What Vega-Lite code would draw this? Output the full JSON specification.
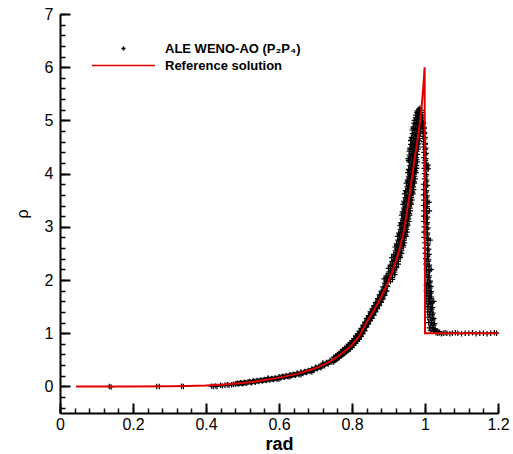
{
"$schema": "https://vega.github.io/schema/vega-lite/v6.json",
"width": 438, "height": 399,
"autosize": {"type": "none"},
"padding": {"left": 60, "top": 14, "right": 15, "bottom": 41},
"background": "white",
"config": {"view": {"stroke": null}, "font": "Liberation Sans", "axis": {"labelFont": "Liberation Sans", "titleFont": "Liberation Sans"}},
"resolve": {"axis": {"x": "independent", "y": "independent"}},
"layer": [
{
"data": {"values": [
{"x":0.135,"y":0},{"x":0.14,"y":-0.01},{"x":0.265,"y":0},{"x":0.272,"y":0},{"x":0.333,"y":0.005},{"x":0.338,"y":0},{"x":0.415,"y":0.005},{"x":0.42,"y":0},{"x":0.425,"y":0.01},{"x":0.43,"y":0},{"x":0.44,"y":0.02},{"x":0.445,"y":0.01},{"x":0.452,"y":0.02},{"x":0.458,"y":0.03},{"x":0.463,"y":0.02},{"x":0.47,"y":0.03},{"x":0.475,"y":0.04},
{"x":0.48,"y":0.04},{"x":0.486,"y":0.06},{"x":0.49,"y":0.05},{"x":0.495,"y":0.07},{"x":0.5,"y":0.05},{"x":0.505,"y":0.08},{"x":0.51,"y":0.06},{"x":0.515,"y":0.08},{"x":0.52,"y":0.09},{"x":0.525,"y":0.07},{"x":0.53,"y":0.1},{"x":0.535,"y":0.08},{"x":0.54,"y":0.11},{"x":0.545,"y":0.09},{"x":0.55,"y":0.12},{"x":0.555,"y":0.1},{"x":0.56,"y":0.13},{"x":0.565,"y":0.11},{"x":0.57,"y":0.14},{"x":0.575,"y":0.12},{"x":0.58,"y":0.15},{"x":0.585,"y":0.13},{"x":0.59,"y":0.16},{"x":0.595,"y":0.14},{"x":0.6,"y":0.18},{"x":0.605,"y":0.16},{"x":0.61,"y":0.19},{"x":0.615,"y":0.17},{"x":0.62,"y":0.2},{"x":0.625,"y":0.18},{"x":0.63,"y":0.22},{"x":0.635,"y":0.2},{"x":0.64,"y":0.23},{"x":0.645,"y":0.21},{"x":0.65,"y":0.25},{"x":0.655,"y":0.22},{"x":0.66,"y":0.27},{"x":0.665,"y":0.24},{"x":0.67,"y":0.28},{"x":0.675,"y":0.26},{"x":0.68,"y":0.3},{"x":0.685,"y":0.28},{"x":0.69,"y":0.33},{"x":0.695,"y":0.3},{"x":0.7,"y":0.36},{"x":0.705,"y":0.33},{"x":0.71,"y":0.38},{"x":0.715,"y":0.35},{"x":0.72,"y":0.42},{"x":0.725,"y":0.39},{"x":0.73,"y":0.45},{"x":0.735,"y":0.42},{"x":0.74,"y":0.49},{"x":0.745,"y":0.46},
{"x":0.57,"y":0.16},{"x":0.6,"y":0.14},{"x":0.63,"y":0.18},{"x":0.66,"y":0.22},{"x":0.69,"y":0.27},{"x":0.72,"y":0.44},
{"x":0.4825,"y":0.055},{"x":0.4875,"y":0.05},{"x":0.4925,"y":0.06},{"x":0.4975,"y":0.065},{"x":0.5025,"y":0.06},{"x":0.5075,"y":0.07},{"x":0.5125,"y":0.075},{"x":0.5175,"y":0.085},{"x":0.5225,"y":0.08},{"x":0.5275,"y":0.09},{"x":0.5325,"y":0.09},{"x":0.5375,"y":0.1},{"x":0.5425,"y":0.1},{"x":0.5475,"y":0.11},{"x":0.5525,"y":0.11},{"x":0.5575,"y":0.12},{"x":0.5625,"y":0.12},{"x":0.5675,"y":0.13},{"x":0.5725,"y":0.13},{"x":0.5775,"y":0.14},{"x":0.5825,"y":0.14},{"x":0.5875,"y":0.15},{"x":0.5925,"y":0.15},{"x":0.5975,"y":0.16},{"x":0.6025,"y":0.17},{"x":0.6075,"y":0.175},{"x":0.6125,"y":0.18},{"x":0.6175,"y":0.19},{"x":0.6225,"y":0.19},{"x":0.6275,"y":0.2},{"x":0.6325,"y":0.21},{"x":0.6375,"y":0.215},{"x":0.6425,"y":0.22},{"x":0.6475,"y":0.23},{"x":0.6525,"y":0.235},{"x":0.6575,"y":0.245},{"x":0.6625,"y":0.255},{"x":0.6675,"y":0.26},{"x":0.6725,"y":0.27},{"x":0.6775,"y":0.28},{"x":0.6825,"y":0.29},{"x":0.6875,"y":0.3},{"x":0.6925,"y":0.315},{"x":0.6975,"y":0.325},{"x":0.7025,"y":0.345},{"x":0.7075,"y":0.355},{"x":0.7125,"y":0.365},{"x":0.7175,"y":0.38},{"x":0.7225,"y":0.405},{"x":0.7275,"y":0.42},{"x":0.7325,"y":0.435},{"x":0.7375,"y":0.455},{"x":0.7425,"y":0.475},{"x":0.7475,"y":0.49},
{"x":0.75,"y":0.55},{"x":0.75,"y":0.5},{"x":0.75,"y":0.46},
{"x":0.755,"y":0.57},{"x":0.755,"y":0.53},{"x":0.755,"y":0.49},
{"x":0.76,"y":0.6},{"x":0.76,"y":0.55},{"x":0.76,"y":0.52},
{"x":0.765,"y":0.62},{"x":0.765,"y":0.58},{"x":0.765,"y":0.54},
{"x":0.77,"y":0.66},{"x":0.77,"y":0.61},{"x":0.77,"y":0.57},
{"x":0.775,"y":0.69},{"x":0.775,"y":0.63},{"x":0.775,"y":0.6},
{"x":0.78,"y":0.72},{"x":0.78,"y":0.67},{"x":0.78,"y":0.62},
{"x":0.785,"y":0.75},{"x":0.785,"y":0.69},{"x":0.785,"y":0.65},
{"x":0.79,"y":0.79},{"x":0.79,"y":0.73},{"x":0.79,"y":0.68},
{"x":0.795,"y":0.82},{"x":0.795,"y":0.76},{"x":0.795,"y":0.7},
{"x":0.8,"y":0.86},{"x":0.8,"y":0.79},{"x":0.8,"y":0.74},
{"x":0.805,"y":0.9},{"x":0.805,"y":0.83},{"x":0.805,"y":0.77},
{"x":0.81,"y":0.95},{"x":0.81,"y":0.87},{"x":0.81,"y":0.81},
{"x":0.815,"y":0.99},{"x":0.815,"y":0.91},{"x":0.815,"y":0.85},
{"x":0.82,"y":1.04},{"x":0.82,"y":0.96},{"x":0.82,"y":0.89},
{"x":0.825,"y":1.09},{"x":0.825,"y":1.0},{"x":0.825,"y":0.94},
{"x":0.83,"y":1.15},{"x":0.83,"y":1.07},{"x":0.83,"y":0.99},
{"x":0.835,"y":1.21},{"x":0.835,"y":1.12},{"x":0.835,"y":1.05},
{"x":0.84,"y":1.28},{"x":0.84,"y":1.2},{"x":0.84,"y":1.12},
{"x":0.845,"y":1.33},{"x":0.845,"y":1.25},{"x":0.845,"y":1.17},
{"x":0.85,"y":1.4},{"x":0.85,"y":1.31},{"x":0.85,"y":1.23},
{"x":0.855,"y":1.46},{"x":0.855,"y":1.37},{"x":0.855,"y":1.28},
{"x":0.86,"y":1.52},{"x":0.86,"y":1.43},{"x":0.86,"y":1.34},
{"x":0.865,"y":1.58},{"x":0.865,"y":1.49},{"x":0.865,"y":1.4},
{"x":0.87,"y":1.65},{"x":0.87,"y":1.55},{"x":0.87,"y":1.46},
{"x":0.875,"y":1.72},{"x":0.875,"y":1.62},{"x":0.875,"y":1.52},
{"x":0.88,"y":1.79},{"x":0.88,"y":1.68},{"x":0.88,"y":1.58},
{"x":0.885,"y":1.87},{"x":0.885,"y":1.75},{"x":0.885,"y":1.64},
{"x":0.89,"y":1.94},{"x":0.89,"y":1.83},{"x":0.89,"y":1.71},
{"x":0.895,"y":2.02},{"x":0.895,"y":1.9},{"x":0.895,"y":1.79},
{"x":0.7525,"y":0.54},{"x":0.7525,"y":0.485},{"x":0.7575,"y":0.565},{"x":0.7575,"y":0.515},{"x":0.7625,"y":0.59},{"x":0.7625,"y":0.54},{"x":0.7675,"y":0.625},{"x":0.7675,"y":0.565},{"x":0.7725,"y":0.65},{"x":0.7725,"y":0.59},{"x":0.7775,"y":0.68},{"x":0.7775,"y":0.615},{"x":0.7825,"y":0.71},{"x":0.7825,"y":0.645},{"x":0.7875,"y":0.745},{"x":0.7875,"y":0.675},{"x":0.7925,"y":0.78},{"x":0.7925,"y":0.705},{"x":0.7975,"y":0.815},{"x":0.7975,"y":0.735},
{"x":0.8025,"y":0.85},{"x":0.8025,"y":0.77},{"x":0.8075,"y":0.89},{"x":0.8075,"y":0.81},{"x":0.8125,"y":0.93},{"x":0.8125,"y":0.85},{"x":0.8175,"y":0.975},{"x":0.8175,"y":0.89},{"x":0.8225,"y":1.025},{"x":0.8225,"y":0.935},{"x":0.8275,"y":1.08},{"x":0.8275,"y":0.99},{"x":0.8325,"y":1.14},{"x":0.8325,"y":1.045},{"x":0.8375,"y":1.205},{"x":0.8375,"y":1.11},
{"x":0.8425,"y":1.27},{"x":0.8425,"y":1.175},{"x":0.8475,"y":1.33},{"x":0.8475,"y":1.23},{"x":0.8525,"y":1.39},{"x":0.8525,"y":1.29},{"x":0.8575,"y":1.45},{"x":0.8575,"y":1.35},{"x":0.8625,"y":1.51},{"x":0.8625,"y":1.41},{"x":0.8675,"y":1.57},{"x":0.8675,"y":1.47},{"x":0.8725,"y":1.64},{"x":0.8725,"y":1.53},{"x":0.8775,"y":1.71},{"x":0.8775,"y":1.59},{"x":0.8825,"y":1.77},{"x":0.8825,"y":1.66},{"x":0.8875,"y":1.85},{"x":0.8875,"y":1.73},{"x":0.8925,"y":1.93},{"x":0.8925,"y":1.8},{"x":0.8975,"y":2.0},{"x":0.8975,"y":1.88},
{"x":0.888,"y":2.02},{"x":0.894,"y":1.98},{"x":0.899,"y":2.03},{"x":0.905,"y":1.97},{"x":0.911,"y":2.01},
{"x":0.894,"y":2.08},{"x":0.9,"y":2.12},{"x":0.905,"y":2.09},{"x":0.911,"y":2.13},{"x":0.917,"y":2.1},
{"x":0.9,"y":2.22},{"x":0.906,"y":2.18},{"x":0.911,"y":2.21},{"x":0.917,"y":2.19},{"x":0.922,"y":2.23},
{"x":0.905,"y":2.28},{"x":0.911,"y":2.32},{"x":0.916,"y":2.29},{"x":0.922,"y":2.31},{"x":0.927,"y":2.3},
{"x":0.909,"y":2.42},{"x":0.915,"y":2.38},{"x":0.92,"y":2.41},{"x":0.926,"y":2.39},{"x":0.932,"y":2.42},
{"x":0.914,"y":2.48},{"x":0.92,"y":2.52},{"x":0.925,"y":2.49},{"x":0.931,"y":2.51},{"x":0.936,"y":2.5},
{"x":0.918,"y":2.62},{"x":0.924,"y":2.58},{"x":0.929,"y":2.61},{"x":0.935,"y":2.59},{"x":0.941,"y":2.62},
{"x":0.922,"y":2.68},{"x":0.928,"y":2.72},{"x":0.933,"y":2.69},{"x":0.939,"y":2.71},{"x":0.944,"y":2.7},
{"x":0.925,"y":2.82},{"x":0.931,"y":2.78},{"x":0.936,"y":2.81},{"x":0.942,"y":2.79},{"x":0.948,"y":2.82},
{"x":0.928,"y":2.88},{"x":0.934,"y":2.92},{"x":0.939,"y":2.89},{"x":0.945,"y":2.91},{"x":0.951,"y":2.9},
{"x":0.931,"y":3.02},{"x":0.937,"y":2.98},{"x":0.942,"y":3.01},{"x":0.948,"y":2.99},{"x":0.953,"y":3.02},
{"x":0.934,"y":3.08},{"x":0.94,"y":3.12},{"x":0.945,"y":3.09},{"x":0.951,"y":3.11},{"x":0.956,"y":3.1},
{"x":0.936,"y":3.22},{"x":0.942,"y":3.18},{"x":0.947,"y":3.21},{"x":0.953,"y":3.19},{"x":0.958,"y":3.22},
{"x":0.938,"y":3.28},{"x":0.944,"y":3.32},{"x":0.949,"y":3.29},{"x":0.955,"y":3.31},{"x":0.96,"y":3.3},
{"x":0.94,"y":3.42},{"x":0.946,"y":3.38},{"x":0.951,"y":3.41},{"x":0.957,"y":3.39},{"x":0.962,"y":3.42},
{"x":0.942,"y":3.48},{"x":0.948,"y":3.52},{"x":0.953,"y":3.49},{"x":0.959,"y":3.51},{"x":0.964,"y":3.5},
{"x":0.944,"y":3.62},{"x":0.95,"y":3.58},{"x":0.955,"y":3.61},{"x":0.961,"y":3.59},{"x":0.967,"y":3.62},
{"x":0.947,"y":3.68},{"x":0.953,"y":3.72},{"x":0.958,"y":3.69},{"x":0.964,"y":3.71},{"x":0.969,"y":3.7},
{"x":0.949,"y":3.82},{"x":0.955,"y":3.78},{"x":0.96,"y":3.81},{"x":0.966,"y":3.79},{"x":0.971,"y":3.82},
{"x":0.951,"y":3.88},{"x":0.957,"y":3.92},{"x":0.962,"y":3.89},{"x":0.968,"y":3.91},{"x":0.973,"y":3.9},
{"x":0.953,"y":4.02},{"x":0.959,"y":3.98},{"x":0.964,"y":4.01},{"x":0.97,"y":3.99},{"x":0.975,"y":4.02},
{"x":0.955,"y":4.08},{"x":0.961,"y":4.12},{"x":0.966,"y":4.09},{"x":0.972,"y":4.11},{"x":0.977,"y":4.1},
{"x":0.957,"y":4.22},{"x":0.963,"y":4.18},{"x":0.968,"y":4.21},{"x":0.974,"y":4.19},{"x":0.979,"y":4.22},
{"x":0.954,"y":4.28},{"x":0.96,"y":4.32},{"x":0.966,"y":4.29},{"x":0.971,"y":4.31},{"x":0.976,"y":4.3},
{"x":0.957,"y":4.42},{"x":0.963,"y":4.38},{"x":0.968,"y":4.41},{"x":0.973,"y":4.39},{"x":0.978,"y":4.42},
{"x":0.959,"y":4.48},{"x":0.965,"y":4.52},{"x":0.971,"y":4.49},{"x":0.976,"y":4.51},{"x":0.981,"y":4.5},
{"x":0.961,"y":4.62},{"x":0.967,"y":4.58},{"x":0.973,"y":4.61},{"x":0.978,"y":4.59},{"x":0.983,"y":4.62},
{"x":0.963,"y":4.68},{"x":0.969,"y":4.72},{"x":0.975,"y":4.69},{"x":0.98,"y":4.71},{"x":0.985,"y":4.7},
{"x":0.965,"y":4.82},{"x":0.971,"y":4.78},{"x":0.977,"y":4.81},{"x":0.982,"y":4.79},{"x":0.987,"y":4.82},
{"x":0.968,"y":4.88},{"x":0.974,"y":4.92},{"x":0.979,"y":4.89},{"x":0.984,"y":4.91},{"x":0.989,"y":4.9},
{"x":0.971,"y":5.0},{"x":0.976,"y":5.03},{"x":0.981,"y":4.99},{"x":0.986,"y":5.02},{"x":0.99,"y":5.0},
{"x":0.975,"y":5.1},{"x":0.98,"y":5.13},{"x":0.984,"y":5.09},{"x":0.988,"y":5.12},
{"x":0.979,"y":5.18},{"x":0.983,"y":5.21},{"x":0.986,"y":5.23},{"x":0.989,"y":5.19},
{"x":0.894,"y":2.05},{"x":0.9,"y":2.06},{"x":0.905,"y":2.04},{"x":0.911,"y":2.05},
{"x":0.9,"y":2.15},{"x":0.906,"y":2.16},{"x":0.911,"y":2.14},{"x":0.917,"y":2.15},
{"x":0.905,"y":2.25},{"x":0.911,"y":2.26},{"x":0.916,"y":2.24},{"x":0.922,"y":2.25},
{"x":0.91,"y":2.35},{"x":0.916,"y":2.36},{"x":0.921,"y":2.34},{"x":0.927,"y":2.35},
{"x":0.914,"y":2.45},{"x":0.92,"y":2.46},{"x":0.925,"y":2.44},{"x":0.931,"y":2.45},
{"x":0.919,"y":2.55},{"x":0.925,"y":2.56},{"x":0.93,"y":2.54},{"x":0.936,"y":2.55},
{"x":0.923,"y":2.65},{"x":0.929,"y":2.66},{"x":0.934,"y":2.64},{"x":0.94,"y":2.65},
{"x":0.926,"y":2.75},{"x":0.932,"y":2.76},{"x":0.937,"y":2.74},{"x":0.943,"y":2.75},
{"x":0.93,"y":2.85},{"x":0.936,"y":2.86},{"x":0.941,"y":2.84},{"x":0.947,"y":2.85},
{"x":0.933,"y":2.95},{"x":0.939,"y":2.96},{"x":0.944,"y":2.94},{"x":0.95,"y":2.95},
{"x":0.935,"y":3.05},{"x":0.941,"y":3.06},{"x":0.946,"y":3.04},{"x":0.952,"y":3.05},
{"x":0.938,"y":3.15},{"x":0.944,"y":3.16},{"x":0.949,"y":3.14},{"x":0.955,"y":3.15},
{"x":0.94,"y":3.25},{"x":0.946,"y":3.26},{"x":0.951,"y":3.24},{"x":0.957,"y":3.25},
{"x":0.942,"y":3.35},{"x":0.948,"y":3.36},{"x":0.953,"y":3.34},{"x":0.959,"y":3.35},
{"x":0.944,"y":3.45},{"x":0.95,"y":3.46},{"x":0.955,"y":3.44},{"x":0.961,"y":3.45},
{"x":0.946,"y":3.55},{"x":0.952,"y":3.56},{"x":0.957,"y":3.54},{"x":0.963,"y":3.55},
{"x":0.949,"y":3.65},{"x":0.955,"y":3.66},{"x":0.96,"y":3.64},{"x":0.966,"y":3.65},
{"x":0.951,"y":3.75},{"x":0.957,"y":3.76},{"x":0.962,"y":3.74},{"x":0.968,"y":3.75},
{"x":0.953,"y":3.85},{"x":0.959,"y":3.86},{"x":0.964,"y":3.84},{"x":0.97,"y":3.85},
{"x":0.955,"y":3.95},{"x":0.961,"y":3.96},{"x":0.966,"y":3.94},{"x":0.972,"y":3.95},
{"x":0.957,"y":4.05},{"x":0.963,"y":4.06},{"x":0.968,"y":4.04},{"x":0.974,"y":4.05},
{"x":0.959,"y":4.15},{"x":0.965,"y":4.16},{"x":0.97,"y":4.14},{"x":0.976,"y":4.15},
{"x":0.955,"y":4.25},{"x":0.961,"y":4.26},{"x":0.967,"y":4.24},{"x":0.972,"y":4.25},{"x":0.978,"y":4.26},
{"x":0.957,"y":4.35},{"x":0.963,"y":4.36},{"x":0.969,"y":4.34},{"x":0.974,"y":4.35},{"x":0.979,"y":4.36},
{"x":0.959,"y":4.45},{"x":0.965,"y":4.46},{"x":0.971,"y":4.44},{"x":0.976,"y":4.45},{"x":0.981,"y":4.46},
{"x":0.961,"y":4.55},{"x":0.967,"y":4.56},{"x":0.973,"y":4.54},{"x":0.978,"y":4.55},{"x":0.983,"y":4.56},
{"x":0.963,"y":4.65},{"x":0.969,"y":4.66},{"x":0.975,"y":4.64},{"x":0.98,"y":4.65},{"x":0.985,"y":4.66},
{"x":0.966,"y":4.75},{"x":0.972,"y":4.76},{"x":0.977,"y":4.74},{"x":0.982,"y":4.75},{"x":0.987,"y":4.76},
{"x":0.968,"y":4.85},{"x":0.974,"y":4.86},{"x":0.979,"y":4.84},{"x":0.984,"y":4.85},{"x":0.989,"y":4.86},
{"x":0.97,"y":4.95},{"x":0.976,"y":4.96},{"x":0.981,"y":4.94},{"x":0.986,"y":4.95},{"x":0.99,"y":4.96},
{"x":0.974,"y":5.05},{"x":0.979,"y":5.06},{"x":0.984,"y":5.04},{"x":0.988,"y":5.05},
{"x":0.978,"y":5.15},{"x":0.982,"y":5.16},{"x":0.986,"y":5.14},{"x":0.99,"y":5.15},
{"x":0.991,"y":5.1},{"x":0.994,"y":5.05},{"x":0.993,"y":4.98},{"x":0.996,"y":4.95},{"x":0.994,"y":4.88},{"x":0.998,"y":4.86},{"x":0.995,"y":4.79},{"x":0.999,"y":4.77},{"x":0.995,"y":4.7},{"x":1.0,"y":4.68},{"x":0.996,"y":4.6},{"x":1.001,"y":4.57},{"x":0.996,"y":4.5},{"x":1.002,"y":4.48},{"x":0.997,"y":4.4},{"x":1.003,"y":4.38},{"x":0.997,"y":4.3},{"x":1.002,"y":4.28},
{"x":0.998,"y":4.2},{"x":1.004,"y":4.18},{"x":1.008,"y":4.16},{"x":0.998,"y":4.1},{"x":1.005,"y":4.12},{"x":1.009,"y":4.09},{"x":0.999,"y":4.0},{"x":1.004,"y":3.98},{"x":0.999,"y":3.9},{"x":1.005,"y":3.88},{"x":0.996,"y":3.8},{"x":1.006,"y":3.78},{"x":0.997,"y":3.7},{"x":1.004,"y":3.68},{"x":0.996,"y":3.6},{"x":1.006,"y":3.58},
{"x":0.997,"y":3.5},{"x":1.007,"y":3.48},{"x":1.011,"y":3.46},{"x":0.996,"y":3.4},{"x":1.006,"y":3.38},{"x":0.997,"y":3.3},{"x":1.005,"y":3.28},{"x":1.012,"y":3.3},{"x":0.996,"y":3.2},{"x":1.007,"y":3.18},{"x":0.997,"y":3.1},{"x":1.006,"y":3.08},{"x":0.998,"y":3.0},{"x":1.008,"y":2.98},{"x":0.997,"y":2.9},{"x":1.007,"y":2.88},
{"x":0.998,"y":2.8},{"x":1.009,"y":2.78},{"x":1.014,"y":2.75},{"x":0.999,"y":2.7},{"x":1.008,"y":2.68},{"x":1.0,"y":2.6},{"x":1.01,"y":2.58},{"x":1.001,"y":2.5},{"x":1.011,"y":2.48},{"x":1.002,"y":2.4},{"x":1.01,"y":2.38},{"x":1.003,"y":2.3},{"x":1.012,"y":2.28},{"x":1.004,"y":2.2},{"x":1.013,"y":2.18},{"x":1.017,"y":2.2},{"x":1.005,"y":2.1},{"x":1.012,"y":2.08},{"x":1.006,"y":2.0},{"x":1.014,"y":1.98},
{"x":0.992,"y":5.05},{"x":0.995,"y":4.95},{"x":0.997,"y":4.85},{"x":0.998,"y":4.75},{"x":0.999,"y":4.65},{"x":1.0,"y":4.55},{"x":1.0,"y":4.45},{"x":1.001,"y":4.35},{"x":1.001,"y":4.25},{"x":1.002,"y":4.15},{"x":1.002,"y":4.05},{"x":1.002,"y":3.95},{"x":1.003,"y":3.85},{"x":1.002,"y":3.75},{"x":1.003,"y":3.65},{"x":1.003,"y":3.55},{"x":1.004,"y":3.45},{"x":1.003,"y":3.35},{"x":1.004,"y":3.25},{"x":1.004,"y":3.15},{"x":1.005,"y":3.05},{"x":1.005,"y":2.95},{"x":1.006,"y":2.85},{"x":1.006,"y":2.75},{"x":1.007,"y":2.65},{"x":1.007,"y":2.55},{"x":1.007,"y":2.45},{"x":1.008,"y":2.35},{"x":1.009,"y":2.25},{"x":1.009,"y":2.15},{"x":1.01,"y":2.05},
{"x":1.007,"y":1.95},{"x":1.013,"y":1.95},{"x":1.008,"y":1.85},{"x":1.014,"y":1.85},{"x":1.008,"y":1.75},{"x":1.015,"y":1.75},{"x":1.009,"y":1.65},{"x":1.016,"y":1.65},{"x":1.01,"y":1.55},{"x":1.017,"y":1.55},{"x":1.011,"y":1.45},{"x":1.018,"y":1.45},{"x":1.012,"y":1.35},{"x":1.02,"y":1.35},{"x":1.014,"y":1.25},{"x":1.022,"y":1.25},{"x":1.016,"y":1.15},{"x":1.024,"y":1.15},
{"x":1.004,"y":1.9},{"x":1.01,"y":1.9},{"x":1.016,"y":1.88},{"x":1.004,"y":1.8},{"x":1.011,"y":1.8},{"x":1.017,"y":1.78},{"x":1.005,"y":1.7},{"x":1.012,"y":1.7},{"x":1.018,"y":1.68},{"x":1.005,"y":1.6},{"x":1.013,"y":1.6},{"x":1.02,"y":1.58},{"x":1.024,"y":1.6},{"x":1.006,"y":1.5},{"x":1.014,"y":1.5},{"x":1.021,"y":1.48},
{"x":1.007,"y":1.4},{"x":1.015,"y":1.4},{"x":1.022,"y":1.38},{"x":1.008,"y":1.3},{"x":1.016,"y":1.3},{"x":1.024,"y":1.28},{"x":1.01,"y":1.2},{"x":1.018,"y":1.2},{"x":1.026,"y":1.18},{"x":1.012,"y":1.1},{"x":1.02,"y":1.1},{"x":1.028,"y":1.08},{"x":1.016,"y":1.05},{"x":1.024,"y":1.04},{"x":1.032,"y":1.03},
{"x":1.026,"y":1.06},{"x":1.03,"y":1.04},{"x":1.036,"y":1.03},{"x":1.04,"y":1.02},
{"x":1.03,"y":1.01},{"x":1.035,"y":1.0},{"x":1.04,"y":1.01},{"x":1.045,"y":0.99},{"x":1.05,"y":1.0},{"x":1.055,"y":1.01},{"x":1.06,"y":1.0},{"x":1.068,"y":0.99},{"x":1.075,"y":1.0},{"x":1.083,"y":1.01},{"x":1.09,"y":1.0},{"x":1.1,"y":0.99},{"x":1.11,"y":1.0},{"x":1.12,"y":1.0},{"x":1.13,"y":1.01},{"x":1.14,"y":0.99},{"x":1.15,"y":1.0},{"x":1.16,"y":1.0},{"x":1.17,"y":0.99},{"x":1.18,"y":1.0},{"x":1.19,"y":1.01},{"x":1.196,"y":1.0}
]},
"mark": {"type": "point", "filled": false, "strokeWidth": 1.2, "size": 30, "opacity": 1},
"encoding": {
  "x": {"field": "x", "type": "quantitative", "scale": {"domain": [0, 1.2], "nice": false, "zero": false},
    "axis": {"orient": "bottom", "values": [0,0.04,0.08,0.12,0.16,0.2,0.24,0.28,0.32,0.36,0.4,0.44,0.48,0.52,0.56,0.6,0.64,0.68,0.72,0.76,0.8,0.84,0.88,0.92,0.96,1,1.04,1.08,1.12,1.16,1.2],
      "labels": false, "title": null, "tickSize": -5, "tickWidth": 1.5, "tickColor": "black", "domainColor": "black", "domainWidth": 2, "grid": false}},
  "y": {"field": "y", "type": "quantitative", "scale": {"domain": [-0.5, 7], "nice": false, "zero": false},
    "axis": {"orient": "left", "values": [-0.4,-0.2,0,0.2,0.4,0.6,0.8,1,1.2,1.4,1.6,1.8,2,2.2,2.4,2.6,2.8,3,3.2,3.4,3.6,3.8,4,4.2,4.4,4.6,4.8,5,5.2,5.4,5.6,5.8,6,6.2,6.4,6.6,6.8,7],
      "labels": false, "title": null, "tickSize": -5, "tickWidth": 1.5, "tickColor": "black", "domainColor": "black", "domainWidth": 2, "grid": false}},
  "color": {"datum": "A", "type": "nominal", "scale": {"domain": ["A", "R"], "range": ["#000000", "#e00000"]},
    "legend": {"orient": "none", "legendX": 57, "legendY": 28, "title": null, "padding": 0, "labelFont": "Liberation Sans", "labelFontSize": 13, "labelFontWeight": "bold", "labelColor": "black",
      "labelExpr": "datum.label == 'A' ? 'ALE WENO-AO (P₂P₄)' : 'Reference solution'", "symbolStrokeWidth": 1.5, "symbolSize": 16, "symbolFillColor": "transparent", "rowPadding": 3, "labelOffset": 35}},
  "shape": {"datum": "A", "type": "nominal", "scale": {"domain": ["A", "R"], "range": ["M-1,0H1M0,-1V1", "M-15.75,0H15.75"]}}
}
},
{
"data": {"values": [
{"i":0,"x":0.044,"y":0},{"i":1,"x":0.1,"y":0},{"i":2,"x":0.2,"y":0},{"i":3,"x":0.3,"y":0.004},{"i":4,"x":0.35,"y":0.009},{"i":5,"x":0.4,"y":0.018},{"i":6,"x":0.45,"y":0.035},{"i":7,"x":0.5,"y":0.062},{"i":8,"x":0.55,"y":0.105},{"i":9,"x":0.6,"y":0.165},{"i":10,"x":0.65,"y":0.235},{"i":11,"x":0.7,"y":0.34},{"i":12,"x":0.72,"y":0.4},{"i":13,"x":0.74,"y":0.47},{"i":14,"x":0.76,"y":0.56},{"i":15,"x":0.78,"y":0.66},{"i":16,"x":0.8,"y":0.78},{"i":17,"x":0.82,"y":0.95},{"i":18,"x":0.84,"y":1.2},{"i":19,"x":0.86,"y":1.43},{"i":20,"x":0.88,"y":1.68},{"i":21,"x":0.9,"y":1.98},{"i":22,"x":0.91,"y":2.15},{"i":23,"x":0.92,"y":2.35},{"i":24,"x":0.93,"y":2.58},{"i":25,"x":0.94,"y":2.85},{"i":26,"x":0.95,"y":3.25},{"i":27,"x":0.96,"y":3.72},{"i":28,"x":0.97,"y":4.2},{"i":29,"x":0.98,"y":4.65},{"i":30,"x":0.985,"y":4.9},{"i":31,"x":0.99,"y":5.2},{"i":32,"x":0.995,"y":5.6},{"i":33,"x":0.999,"y":6.0},{"i":34,"x":1.0,"y":1.0},{"i":35,"x":1.2,"y":1.0}
]},
"mark": {"type": "line", "color": "#e00000", "strokeWidth": 2},
"encoding": {
  "x": {"field": "x", "type": "quantitative",
    "axis": {"orient": "bottom", "values": [0,0.2,0.4,0.6,0.8,1,1.2], "format": "~g", "domain": false, "tickSize": -10, "tickWidth": 2, "tickColor": "black",
      "labelFontSize": 16, "labelColor": "black", "labelPadding": 13, "labelFlush": false, "labelOverlap": false, "labelBound": false,
      "title": "rad", "titleFontSize": 18, "titleFontWeight": "bold", "titleColor": "black", "titlePadding": 3, "grid": false}},
  "y": {"field": "y", "type": "quantitative",
    "axis": {"orient": "left", "values": [0,1,2,3,4,5,6,7], "format": "~g", "domain": false, "tickSize": -10, "tickWidth": 2, "tickColor": "black",
      "labelFontSize": 16, "labelColor": "black", "labelPadding": 17, "labelFlush": false, "labelOverlap": false, "labelBound": false,
      "title": "ρ", "titleFontSize": 16, "titleFontWeight": "normal", "titleColor": "black", "titlePadding": 14, "grid": false}},
  "order": {"field": "i", "type": "quantitative"}
}
}
]
}
